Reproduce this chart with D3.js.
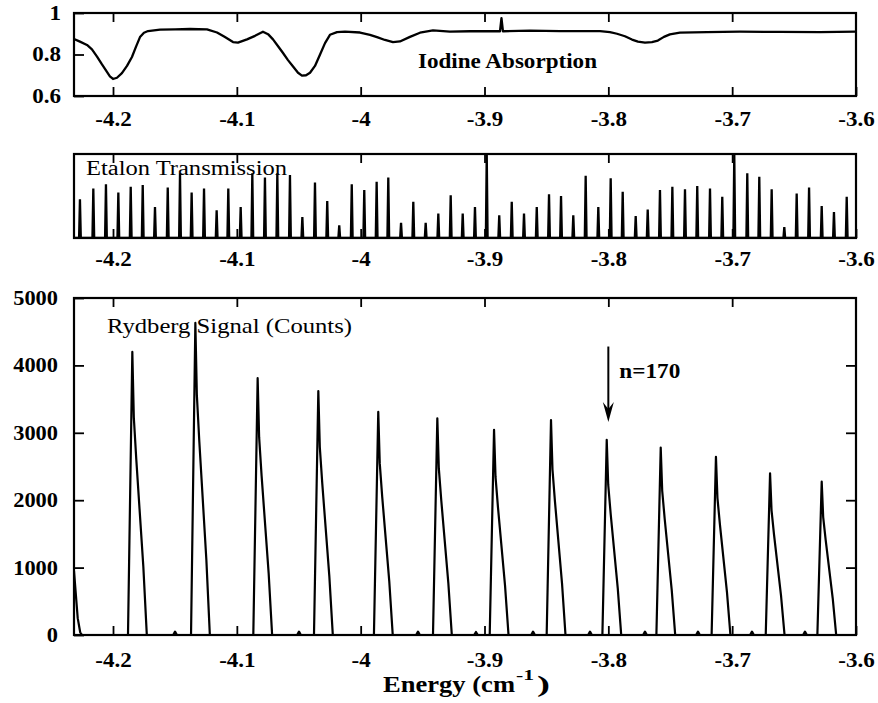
<!DOCTYPE html>
<html><head><meta charset="utf-8">
<script src="https://cdn.jsdelivr.net/npm/d3@7"></script>
<style>
body{margin:0;background:#fff;}
svg{display:block;background:#fff;}
text{font-family:"Liberation Serif","Times New Roman",serif;fill:#000;}
</style></head><body>
<svg id="c" width="878" height="703"></svg>
<script>
// ---------- DATA ----------
const xDomain = [-4.2315, -3.6];
const xTicks = [-4.2, -4.1, -4.0, -3.9, -3.8, -3.7, -3.6];
const xTickLabels = ["-4.2", "-4.1", "-4", "-3.9", "-3.8", "-3.7", "-3.6"];
const iodineTicks = [0.6, 0.8, 1];
const iodineTickLabels = ["0.6", "0.8", "1"];
const rydbergTicks = [0, 1000, 2000, 3000, 4000, 5000];

const iodineEnergy = [-4.2315,-4.2267,-4.2210,-4.2170,-4.2129,-4.2089,-4.2049,-4.2025,-4.2000,-4.1968,
  -4.1928,-4.1887,-4.1847,-4.1814,-4.1782,-4.1750,-4.1717,-4.1620,-4.1499,-4.1378,
  -4.1241,-4.1160,-4.1096,-4.1031,-4.0991,-4.0918,-4.0853,-4.0789,-4.0748,-4.0708,
  -4.0667,-4.0627,-4.0587,-4.0546,-4.0506,-4.0474,-4.0441,-4.0409,-4.0369,-4.0328,
  -4.0288,-4.0248,-4.0191,-4.0127,-4.0005,-3.9925,-3.9868,-3.9804,-3.9739,-3.9683,
  -3.9602,-3.9521,-3.9416,-3.9279,-3.9117,-3.8915,-3.8875,-3.8863,-3.8851,-3.8633,
  -3.8391,-3.8067,-3.7987,-3.7930,-3.7866,-3.7809,-3.7761,-3.7704,-3.7648,-3.7600,
  -3.7551,-3.7503,-3.7422,-3.7204,-3.6938,-3.6615,-3.6292,-3.6000];
const iodineValue = [0.875,0.862,0.846,0.825,0.790,0.752,0.716,0.695,0.682,0.688,
  0.710,0.745,0.788,0.838,0.884,0.905,0.913,0.920,0.921,0.923,
  0.921,0.906,0.884,0.860,0.857,0.873,0.890,0.910,0.898,0.873,
  0.840,0.807,0.773,0.742,0.712,0.698,0.700,0.712,0.745,0.800,
  0.855,0.895,0.908,0.910,0.906,0.895,0.884,0.870,0.860,0.863,
  0.885,0.905,0.916,0.910,0.912,0.912,0.912,0.975,0.912,0.915,
  0.913,0.913,0.908,0.900,0.888,0.872,0.862,0.857,0.860,0.867,
  0.885,0.897,0.905,0.908,0.910,0.909,0.908,0.910];

const etalonEnergy = [-4.2267,-4.2159,-4.2057,-4.1957,-4.1857,-4.1760,-4.1661,-4.1558,-4.1459,-4.1365,
  -4.1265,-4.1163,-4.1069,-4.0969,-4.0875,-4.0773,-4.0673,-4.0571,-4.0471,-4.0369,
  -4.0270,-4.0173,-4.0072,-3.9971,-3.9871,-3.9777,-3.9674,-3.9575,-3.9475,-3.9373,
  -3.9273,-3.9176,-3.9077,-3.8982,-3.8881,-3.8780,-3.8681,-3.8578,-3.8479,-3.8382,
  -3.8283,-3.8183,-3.8081,-3.7981,-3.7884,-3.7779,-3.7682,-3.7583,-3.7483,-3.7381,
  -3.7282,-3.7179,-3.7080,-3.6983,-3.6878,-3.6781,-3.6681,-3.6579,-3.6479,-3.6379,
  -3.6277,-3.6178,-3.6075];
const etalonHeight = [0.46,0.59,0.64,0.54,0.61,0.63,0.37,0.60,0.77,0.54,
  0.59,0.33,0.59,0.37,0.77,0.72,0.77,0.75,0.25,0.66,
  0.44,0.15,0.64,0.57,0.67,0.72,0.18,0.43,0.18,0.29,
  0.51,0.29,0.37,1.00,0.27,0.43,0.29,0.37,0.52,0.50,
  0.27,0.74,0.37,0.71,0.55,0.26,0.34,0.57,0.61,0.58,
  0.62,0.59,0.49,1.00,0.77,0.73,0.58,0.13,0.53,0.60,
  0.38,0.31,0.49];

const rydbergSignal = [
  [-4.2315,950],[-4.2300,600],[-4.2285,250],[-4.2265,40],[-4.2250,0],
  [-4.1879,0],[-4.1844,4200],[-4.1832,3230],[-4.1812,2605],[-4.1755,1010],[-4.1727,0],
  [-4.1514,0],[-4.1499,50],[-4.1484,0],
  [-4.1370,0],[-4.1335,4630],[-4.1323,3565],[-4.1303,2870],[-4.1246,1110],[-4.1218,0],
  [-4.0867,0],[-4.0832,3810],[-4.0820,2935],[-4.0800,2360],[-4.0743,915],[-4.0715,0],
  [-4.0513,0],[-4.0498,50],[-4.0483,0],
  [-4.0377,0],[-4.0342,3620],[-4.0330,2790],[-4.0310,2245],[-4.0253,870],[-4.0225,0],
  [-3.9893,0],[-3.9858,3310],[-3.9846,2550],[-3.9826,2050],[-3.9769,795],[-3.9741,0],
  [-3.9552,0],[-3.9537,50],[-3.9522,0],
  [-3.9416,0],[-3.9381,3215],[-3.9369,2475],[-3.9349,1995],[-3.9292,770],[-3.9264,0],
  [-3.9084,0],[-3.9069,45],[-3.9054,0],
  [-3.8958,0],[-3.8923,3045],[-3.8911,2345],[-3.8891,1890],[-3.8834,730],[-3.8806,0],
  [-3.8623,0],[-3.8608,50],[-3.8593,0],
  [-3.8498,0],[-3.8463,3190],[-3.8451,2455],[-3.8431,1980],[-3.8374,765],[-3.8346,0],
  [-3.8163,0],[-3.8148,50],[-3.8133,0],
  [-3.8048,0],[-3.8013,2895],[-3.8001,2230],[-3.7981,1795],[-3.7924,695],[-3.7896,0],
  [-3.7719,0],[-3.7704,50],[-3.7689,0],
  [-3.7612,0],[-3.7577,2780],[-3.7565,2140],[-3.7545,1725],[-3.7488,665],[-3.7460,0],
  [-3.7291,0],[-3.7276,50],[-3.7261,0],
  [-3.7166,0],[-3.7131,2645],[-3.7119,2035],[-3.7099,1640],[-3.7042,635],[-3.7014,0],
  [-3.6855,0],[-3.6840,50],[-3.6825,0],
  [-3.6729,0],[-3.6694,2400],[-3.6682,1850],[-3.6662,1490],[-3.6605,575],[-3.6577,0],
  [-3.6427,0],[-3.6412,50],[-3.6397,0],
  [-3.6312,0],[-3.6277,2275],[-3.6265,1750],[-3.6245,1410],[-3.6188,545],[-3.6160,0],
  [-3.6000,0]
];

const arrowEnergy = -3.8;
const arrowFrom = 4280, arrowTo = 3160;
const arrowLabel = "n=170";

// ---------- LAYOUT ----------
const svg = d3.select("#c");
const L = 74, R = 856;
const x = d3.scaleLinear().domain(xDomain).range([L, R]);
const yTop = d3.scaleLinear().domain([0.6, 1]).range([96, 13]);
const yMid = d3.scaleLinear().domain([0, 1]).range([238, 154]);
const yBot = d3.scaleLinear().domain([0, 5000]).range([635, 298]);

function stretch(sel, f) {
  sel.each(function () {
    const w = this.getComputedTextLength();
    d3.select(this).attr("textLength", w * f).attr("lengthAdjust", "spacingAndGlyphs");
  });
}

const defs = svg.append("defs");
function clip(id, y0, y1) {
  defs.append("clipPath").attr("id", id).append("rect")
    .attr("x", L).attr("y", y0).attr("width", R - L).attr("height", y1 - y0);
}
clip("cTop", yTop.range()[1], yTop.range()[0]);
clip("cMid", yMid.range()[1], yMid.range()[0]);
clip("cBot", yBot.range()[1], yBot.range()[0]);

function styleAxis(g) {
  g.select(".domain").remove();
  g.selectAll(".tick line").attr("stroke", "#000").attr("stroke-width", 1.8);
  g.selectAll("text").attr("font-size", 20).attr("font-weight", "bold")
    .attr("font-family", "Liberation Serif, serif").attr("fill", "#000");
}

function panel(yScale, padBottom) {
  const [yb, yt] = yScale.range();
  const gb = svg.append("g").attr("transform", `translate(0,${yb})`)
    .call(d3.axisBottom(x).tickValues(xTicks).tickFormat((d, i) => xTickLabels[i])
      .tickSizeInner(-9).tickSizeOuter(0).tickPadding(padBottom));
  styleAxis(gb); stretch(gb.selectAll("text"), 1.15);
  const gt = svg.append("g").attr("transform", `translate(0,${yt})`)
    .call(d3.axisTop(x).tickValues(xTicks.slice(0, -1)).tickFormat("")
      .tickSizeInner(-9).tickSizeOuter(0));
  styleAxis(gt);
}

// Top panel: iodine
panel(yTop, 16);
const gl = svg.append("g").attr("transform", `translate(${L},0)`)
  .call(d3.axisLeft(yTop).tickValues(iodineTicks).tickFormat((d, i) => iodineTickLabels[i])
    .tickSizeInner(-10).tickSizeOuter(0).tickPadding(13));
styleAxis(gl); stretch(gl.selectAll("text"), 1.15);

const iodinePts = iodineEnergy.map((e, i) => [e, iodineValue[i]]);
svg.append("path").attr("clip-path", "url(#cTop)")
  .attr("d", d3.line().x(d => x(d[0])).y(d => yTop(d[1]))(iodinePts))
  .attr("fill", "none").attr("stroke", "#000").attr("stroke-width", 2.3).attr("stroke-linejoin", "round");

// Middle panel: etalon
panel(yMid, 14);
const hw = 0.0007;
const etalonPts = [[xDomain[0], 0]];
etalonEnergy.forEach((e, i) => {
  etalonPts.push([e - hw, 0], [e, etalonHeight[i]], [e + hw, 0]);
});
etalonPts.push([xDomain[1], 0]);
svg.append("path").attr("clip-path", "url(#cMid)")
  .attr("d", d3.line().x(d => x(d[0])).y(d => yMid(d[1]))(etalonPts))
  .attr("fill", "none").attr("stroke", "#000").attr("stroke-width", 2.3).attr("stroke-linejoin", "miter");

// Bottom panel: Rydberg
panel(yBot, 18);
const gbl = svg.append("g").attr("transform", `translate(${L},0)`)
  .call(d3.axisLeft(yBot).tickValues(rydbergTicks).tickFormat(d3.format("d"))
    .tickSizeInner(-10).tickSizeOuter(0).tickPadding(16));
styleAxis(gbl); stretch(gbl.selectAll("text"), 1.12);
const gbr = svg.append("g").attr("transform", `translate(${R},0)`)
  .call(d3.axisRight(yBot).tickValues(rydbergTicks.slice(1, -1)).tickFormat("")
    .tickSizeInner(-10).tickSizeOuter(0));
styleAxis(gbr);

svg.append("path").attr("clip-path", "url(#cBot)")
  .attr("d", d3.line().x(d => x(d[0])).y(d => yBot(d[1]))(rydbergSignal))
  .attr("fill", "none").attr("stroke", "#000").attr("stroke-width", 2.2).attr("stroke-linejoin", "round");

// Frames
[yTop, yMid, yBot].forEach(s => {
  const [yb, yt] = s.range();
  svg.append("rect").attr("x", L).attr("y", yt).attr("width", R - L).attr("height", yb - yt)
    .attr("fill", "none").attr("stroke", "#000").attr("stroke-width", 2.2);
});

// Arrow
const ax = x(arrowEnergy), ay0 = yBot(arrowFrom), ay1 = yBot(arrowTo);
svg.append("line").attr("x1", ax).attr("x2", ax).attr("y1", ay0).attr("y2", ay1 - 10)
  .attr("stroke", "#000").attr("stroke-width", 2);
svg.append("path")
  .attr("d", `M${ax},${ay1} L${ax - 5.5},${ay1 - 20} L${ax},${ay1 - 13} L${ax + 5.5},${ay1 - 20} Z`)
  .attr("fill", "#000");

// Labels
function label(txt, xx, yy, size, weight, width) {
  const t = svg.append("text").attr("x", xx).attr("y", yy).attr("font-size", size)
    .attr("font-weight", weight).text(txt);
  if (width) t.attr("textLength", width).attr("lengthAdjust", "spacingAndGlyphs");
  return t;
}
label("Iodine Absorption", 418, 68, 20, "bold", 179);
label("Etalon Transmission", 86, 175, 20, "normal", 201);
label("Rydberg Signal (Counts)", 107, 333, 21, "normal", 245);
label(arrowLabel, ax + 11, 378, 21, "bold", 61);
label("Energy (cm", 383, 692, 23, "bold", 132);
label("-1", 516, 680, 15, "bold", 18);
label(")", 537, 692, 23, "bold", 13);
</script>
</body></html>
